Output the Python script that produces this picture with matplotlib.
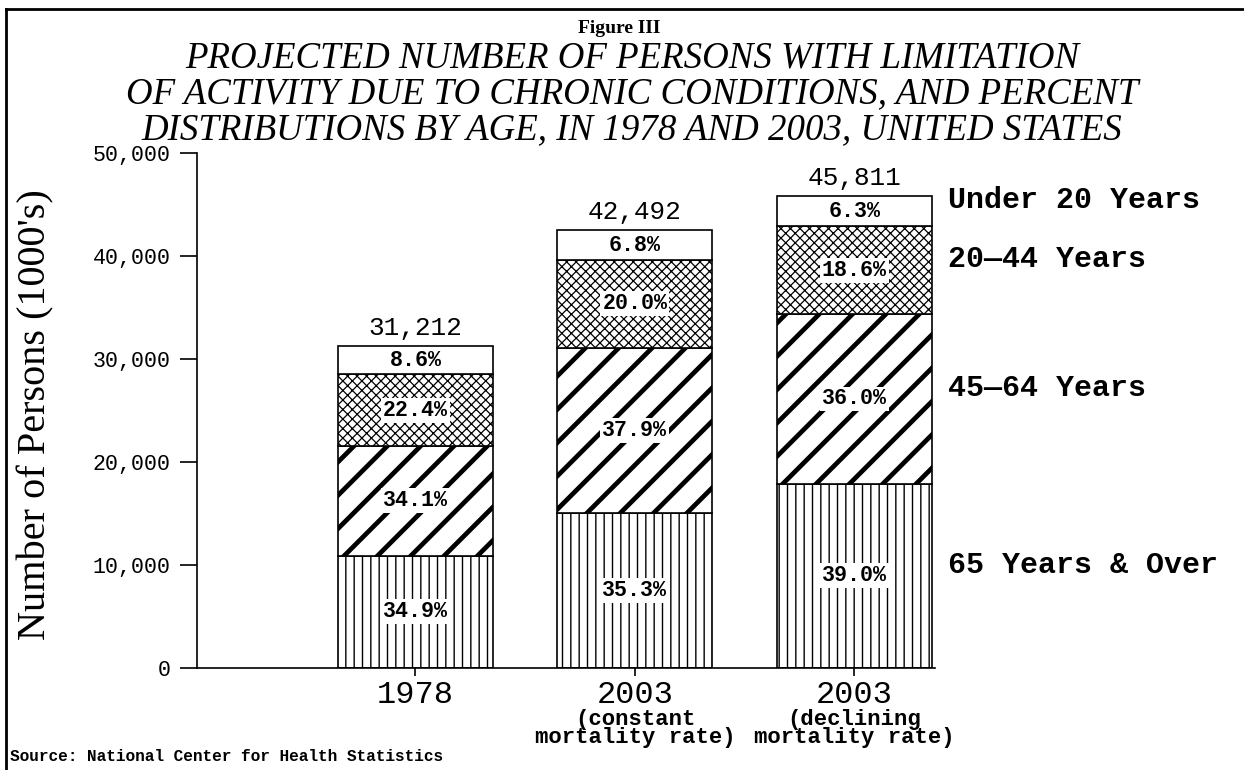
import matplotlib
matplotlib.use("Agg")
import matplotlib.pyplot as plt
import matplotlib.ticker as mticker
from matplotlib.lines import Line2D
import numpy as np

# ── data ────────────────────────────────────────────────────────────────────
categories = ["1978", "2003", "2003"]
subtitles = ["", "(constant\nmortality rate)", "(declining\nmortality rate)"]
totals = [31212, 42492, 45811]            # thousands of persons
age_groups = ["65 Years & Over", "45\u201464 Years", "20\u201444 Years", "Under 20 Years"]
pct_65_over = [34.9, 35.3, 39.0]
pct_45_64 = [34.1, 37.9, 36.0]
pct_20_44 = [22.4, 20.0, 18.6]
pct_under_20 = [8.6, 6.8, 6.3]

# ── style ───────────────────────────────────────────────────────────────────
MONO = "Liberation Mono"
SERIF = "Liberation Serif"
HATCHES = ["||||", "//", "xxxxxxx", ""]
HATCH_LW = [0.5, 1.7, 0.45, 0.5]

plt.rcParams["hatch.color"] = "black"

fig = plt.figure(figsize=(6.22, 3.85), dpi=200)
ax = fig.add_axes([0.1584, 0.1325, 0.5932, 0.669])

x = np.arange(len(categories))
width = 0.706
tot = np.array(totals, dtype=float)
pcts = [pct_65_over, pct_45_64, pct_20_44, pct_under_20]
bottom = np.zeros(len(categories))
seg_mids = []
for pct, hatch, hlw in zip(pcts, HATCHES, HATCH_LW):
    h = tot * np.array(pct) / 100.0
    with plt.rc_context({"hatch.linewidth": hlw}):
        bars = ax.bar(x, h, width, bottom=bottom, color="white", edgecolor="black",
                      linewidth=0.6, hatch=hatch, zorder=2)
    for b in bars:
        if hasattr(b, "set_hatch_linewidth"):
            b.set_hatch_linewidth(hlw)
    mids = bottom + h / 2
    seg_mids.append(mids)
    for xi, m, p in zip(x, mids, pct):
        ax.text(xi, m, f"{p:.1f}%", ha="center", va="center", family=MONO,
                fontweight="bold", fontsize=7.8, zorder=4,
                bbox=dict(facecolor="white", edgecolor="none", pad=0.7))
    bottom = bottom + h

# totals above bars
for xi, t in zip(x, totals):
    ax.annotate(f"{t:,}", (xi, t), xytext=(0, 2.3), textcoords="offset points",
                ha="center", va="bottom", family=MONO, fontsize=9.4)

# age group labels to the right of last bar
for name, mids in zip(age_groups, seg_mids):
    ax.text(1.018, mids[-1] + 1100, name, transform=ax.get_yaxis_transform(),
            ha="left", va="center", family=MONO, fontweight="bold", fontsize=10.8,
            clip_on=False)

# axes
ax.set_xlim(-0.995, 2.367)
ax.set_ylim(0, 50000)
ax.set_yticks(np.arange(0, 50001, 10000))
ax.yaxis.set_major_formatter(mticker.FuncFormatter(lambda v, _: f"{int(v):,}"))
ax.set_xticks(x)
ax.set_xticklabels(categories)
for lbl in ax.get_yticklabels():
    lbl.set_family(MONO)
    lbl.set_fontsize(7.8)
for lbl in ax.get_xticklabels():
    lbl.set_family(MONO)
    lbl.set_fontsize(11.5)
ax.tick_params(axis="y", direction="out", length=6, width=0.6, pad=3.5)
ax.tick_params(axis="x", direction="out", length=3, width=0.6, pad=1.2)
ax.spines["top"].set_visible(False)
ax.spines["right"].set_visible(False)
ax.spines["left"].set_linewidth(0.6)
ax.spines["bottom"].set_linewidth(0.6)
ax.set_ylabel("Number of Persons (1000's)", family=SERIF, fontsize=14.5)
ax.yaxis.label.set_va("center")
ax.yaxis.set_label_coords(-0.218, 0.491)

for xi, s in zip(x, subtitles):
    if s:
        ax.text(xi, -0.08, s, transform=ax.get_xaxis_transform(), ha="center",
                va="top", family=MONO, fontweight="bold", fontsize=8.0,
                linespacing=0.8)

# titles
fig.text(0.498, 0.963, "Figure III", ha="center", va="center", family=SERIF,
         fontweight="bold", fontsize=7)
title_lines = ["PROJECTED NUMBER OF PERSONS WITH LIMITATION",
               "OF ACTIVITY DUE TO CHRONIC CONDITIONS, AND PERCENT",
               "DISTRIBUTIONS BY AGE, IN 1978 AND 2003, UNITED STATES"]
for i, line in enumerate(title_lines):
    fig.text(0.508, 0.9247 - i * 0.0468, line, ha="center", va="center",
             family=SERIF, style="italic", fontsize=13.3)

fig.text(0.008, 0.017, "Source: National Center for Health Statistics", ha="left",
         va="center", family=MONO, fontweight="bold", fontsize=5.8)

# border of the scanned page (left and top only)
fig.add_artist(Line2D([0.005, 0.005], [0.0, 0.988], transform=fig.transFigure,
                      color="black", lw=1.0))
fig.add_artist(Line2D([0.005, 1.0], [0.988, 0.988], transform=fig.transFigure,
                      color="black", lw=1.0))

fig.savefig("out.png", dpi=200)
